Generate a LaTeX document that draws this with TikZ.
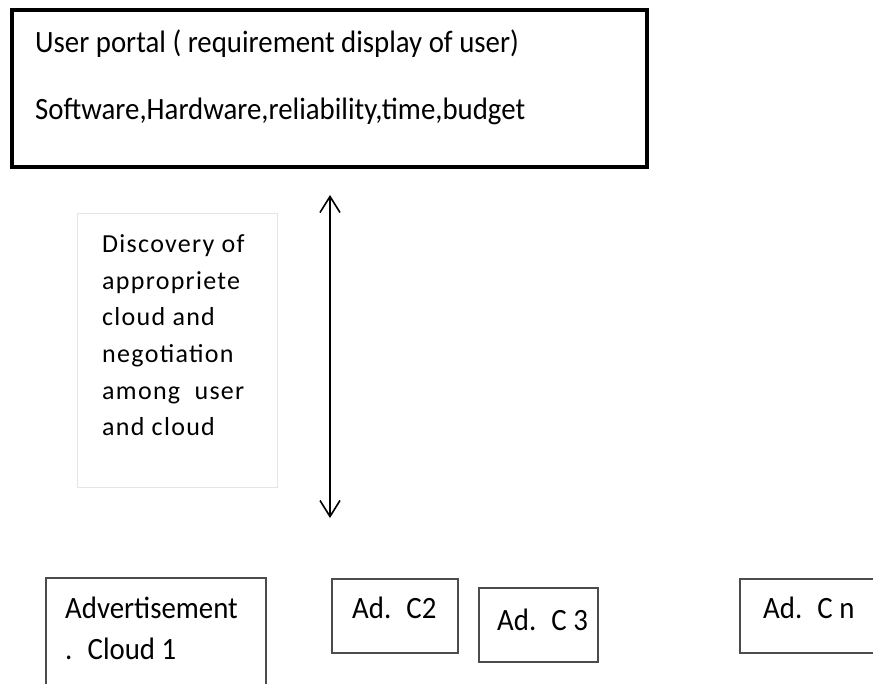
\documentclass[tikz,border=0pt]{standalone}
\usepackage{fontspec}
\setmainfont{Carlito}
\newfontfamily\topfont[FakeStretch=0.93]{Carlito}
\newfontfamily\discfont[LetterSpace=5]{Carlito}
\usetikzlibrary{arrows.meta}
\tikzset{
  x=1pt,y=-1pt,
  txt/.style={inner sep=0pt,anchor=base west,font=\topfont\fontsize{31}{36}\selectfont},
  adtxt/.style={inner sep=0pt,anchor=base west,font=\topfont\fontsize{31}{36}\selectfont},
  disctxt/.style={inner sep=0pt,anchor=base west,font=\discfont\fontsize{26}{30}\selectfont},
  adbox/.style={draw=black!70,line width=1.5pt},
  discbox/.style={draw=black!10,line width=1pt},
  portalbox/.style={draw=black,line width=3.5pt},
  dblarrow/.style={line width=1.6pt,{Straight Barb[length=16pt,width=20pt,line width=1.6pt]}-{Straight Barb[length=16pt,width=20pt,line width=1.6pt]}}
}
\begin{document}
\begin{tikzpicture}
\useasboundingbox (0,0) rectangle (873,683);
% user portal box with shadow
\draw[black!75,line width=2pt] (648,12) -- (648,168) -- (14,168);
\node[portalbox,minimum width=635pt,minimum height=157pt,anchor=north west,inner sep=0pt] (portal) at (10,8) {};
\node[txt] (p1) at (35,52) {User portal ( requirement display of user)};
\node[txt] (p2) at (35,119) {Software,Hardware,reliability,time,budget};
% discovery box
\node[discbox,minimum width=200pt,minimum height=274pt,anchor=north west,inner sep=0pt] (disc) at (77,213) {};
\node[disctxt] (d1) at (102,252) {Discovery of};
\node[disctxt] (d2) at (102,289) {appropriete};
\node[disctxt] (d3) at (102,325) {cloud and};
\node[disctxt] (d4) at (102,362) {negotiation};
\node[disctxt] (d5) at (102,399) {among~ user};
\node[disctxt] (d6) at (102,435) {and cloud};
% arrow
\coordinate (atop) at (330,195);
\coordinate (abot) at (330,518);
\draw[dblarrow] (atop) -- (abot);
% ad boxes
\node[adbox,minimum width=220pt,minimum height=140pt,anchor=north west,inner sep=0pt] (ad1) at (45,577) {};
\node[adtxt] (a1a) at (65,618) {Advertisement};
\node[adtxt] (a1b) at (65,659) {.~ Cloud 1};
\node[adbox,minimum width=126pt,minimum height=74pt,anchor=north west,inner sep=0pt] (ad2) at (331,578) {};
\node[adtxt] (a2) at (352,618) {Ad.~ C2};
\node[adbox,minimum width=119pt,minimum height=74pt,anchor=north west,inner sep=0pt] (ad3) at (478,587) {};
\node[adtxt] (a3) at (497,630) {Ad.~ C 3};
\node[adbox,minimum width=150pt,minimum height=74pt,anchor=north west,inner sep=0pt] (adn) at (739,578) {};
\node[adtxt] (an) at (763,618) {Ad.~ C n};
\end{tikzpicture}
\end{document}
